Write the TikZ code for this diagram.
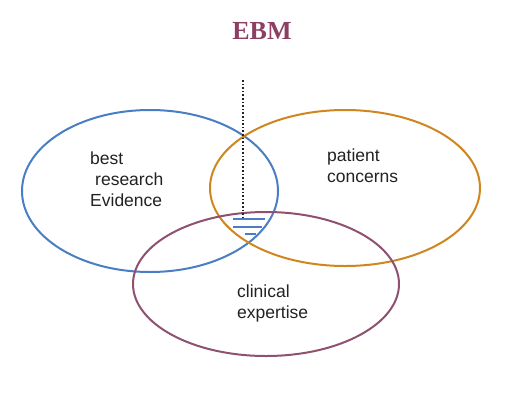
\documentclass[tikz,border=0pt]{standalone}
\usepackage{fontspec}
\setmainfont{Liberation Serif}
\setsansfont{Liberation Sans}
\definecolor{evid}{HTML}{4A7EC4}
\definecolor{patient}{HTML}{D0861E}
\definecolor{clinic}{HTML}{8E5170}
\definecolor{title}{HTML}{8C3F62}
\definecolor{ink}{HTML}{222222}
\newcommand{\Wx}{243}
\begin{document}
\begin{tikzpicture}[x=1pt, y=-1pt, ink,
    ring/.style={line width=2pt},
    label/.style={font=\sffamily\fontsize{17.5}{21}\selectfont, align=left, anchor=base west, inner sep=0pt},
  ]
% --- Background ------------------------------------------------------------------------
\useasboundingbox[fill=white] (0,0) rectangle (524,399);

% --- Title -----------------------------------------------------------------------------
\node[title, font=\bfseries\fontsize{26}{30}\selectfont] (ebm) at (262,31) {EBM};

% --- The three circles -----------------------------------------------------------------
\draw[evid, ring] (150,191) ellipse [x radius=128, y radius=81];
\draw[patient, ring] (345,188) ellipse [x radius=135, y radius=78];
\draw[clinic, ring] (266,284) ellipse [x radius=133, y radius=72];

% --- Labels (placed at the baseline of their last line) ----------------------------------
\node[label] (evidence) at (90,206) {best\\\hspace{5pt}research\\Evidence};
\node[label] (concerns) at (327,182) {patient\\concerns};
\node[label] (expertise) at (237,318) {clinical\\expertise};

% --- The pointer into the middle, and its ground mark ------------------------------------
\coordinate (top) at (\Wx,80);
\coordinate (foot) at (\Wx,218);
\draw[dotted, line width=1.6pt] (top) -- (foot);
\foreach \y/\a/\b in {219/233/265, 227/233/262, 234/245/256} {
  \draw[evid, line width=2.2pt] (\a,\y) -- (\b,\y);
}
\end{tikzpicture}
\end{document}
